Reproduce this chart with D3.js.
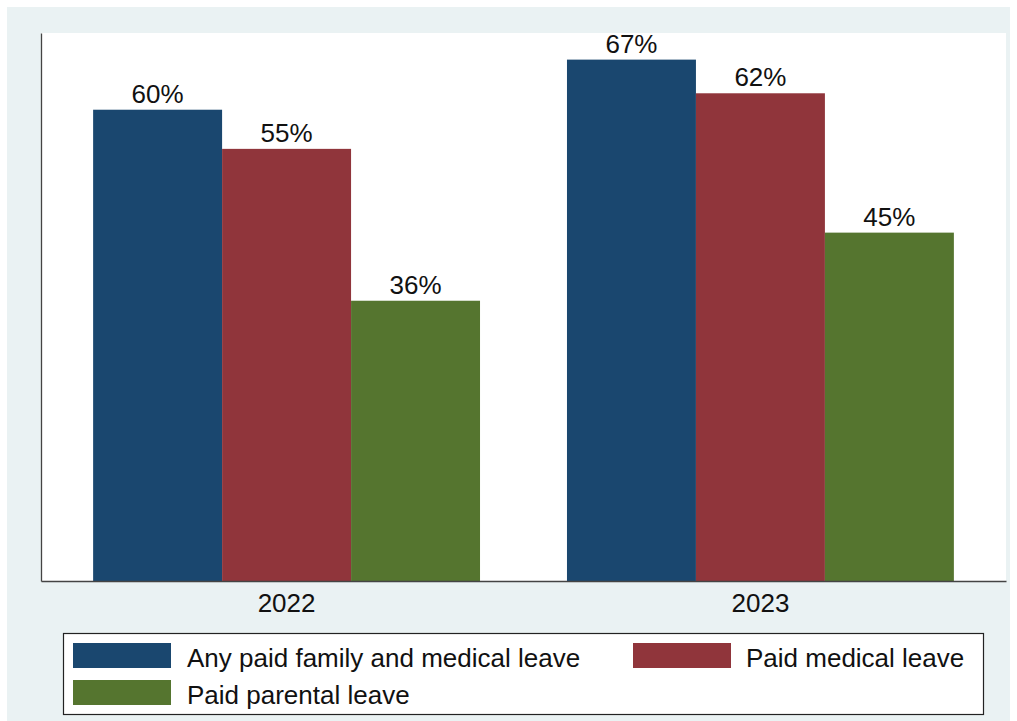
<!DOCTYPE html>
<html>
<head>
<meta charset="utf-8">
<script src="https://cdn.jsdelivr.net/npm/d3@7"></script>
<style>
  html, body { margin: 0; padding: 0; background: #ffffff; }
  svg { display: block; font-family: "Liberation Sans", Arial, Helvetica, sans-serif; }
</style>
</head>
<body>
<svg id="chart" width="1017" height="721"></svg>
<script>
// ---- data ----
const years = ["2022", "2023"];
const seriesNames = ["Any paid family and medical leave", "Paid medical leave", "Paid parental leave"];
const anyPaidLeave = [60.2, 66.6];
const paidMedicalLeave = [55.2, 62.3];
const paidParentalLeave = [35.8, 44.5];
const seriesColors = ["#1a476f", "#90353b", "#55752f"];

const seriesValues = [anyPaidLeave, paidMedicalLeave, paidParentalLeave];
const rows = years.map((yr, i) => ({
  year: yr,
  values: seriesNames.map((s, k) => ({ key: s, value: seriesValues[k][i], color: seriesColors[k] }))
}));

const svg = d3.select("#chart");
const W = 1017, H = 721;
const FS = 26;

// outer background
svg.append("rect").attr("x", 7).attr("y", 7).attr("width", W - 7 - 7).attr("height", H - 7)
  .attr("fill", "#eaf2f3");

const plot = { left: 41, right: 1006, top: 33, bottom: 581 };

// plot region
svg.append("rect").attr("x", plot.left).attr("y", plot.top)
  .attr("width", plot.right - plot.left).attr("height", plot.bottom - plot.top)
  .attr("fill", "#ffffff");

const x0 = d3.scaleBand().domain(years).range([plot.left, plot.right])
  .paddingInner(0.1835).paddingOuter(0.11);
const x1 = d3.scaleBand().domain(seriesNames).range([0, x0.bandwidth()]).padding(0);
const y = d3.scaleLinear().domain([0, 70]).range([plot.bottom, plot.top]);

// bars
const groups = svg.append("g").selectAll("g").data(rows).join("g")
  .attr("transform", d => `translate(${x0(d.year)},0)`);

groups.selectAll("rect").data(d => d.values).join("rect")
  .attr("x", d => x1(d.key))
  .attr("y", d => y(d.value))
  .attr("width", x1.bandwidth())
  .attr("height", d => y(0) - y(d.value))
  .attr("fill", d => d.color);

groups.selectAll("text").data(d => d.values).join("text")
  .attr("x", d => x1(d.key) + x1.bandwidth() / 2)
  .attr("y", d => y(d.value) - 7)
  .attr("text-anchor", "middle")
  .attr("font-size", FS)
  .attr("fill", "#111")
  .text(d => Math.round(d.value) + "%");

// axes
const yAxis = svg.append("g").attr("transform", `translate(${plot.left},0)`)
  .call(d3.axisLeft(y).tickValues([]).tickSizeOuter(0));
yAxis.select(".domain").attr("stroke", "#444").attr("stroke-width", 1.3);

const xAxis = svg.append("g").attr("transform", `translate(0,${plot.bottom})`)
  .call(d3.axisBottom(x0).tickSize(0).tickPadding(13));
xAxis.select(".domain").attr("stroke", "#444").attr("stroke-width", 1.3);
xAxis.selectAll("text").attr("font-size", FS).attr("fill", "#111")
  .attr("font-family", "'Liberation Sans', Arial, Helvetica, sans-serif");

// legend
const legend = svg.append("g");
legend.append("rect").attr("x", 63.5).attr("y", 633.5).attr("width", 920).attr("height", 81)
  .attr("fill", "#ffffff").attr("stroke", "#222").attr("stroke-width", 1.2);

const legendPos = [
  { sx: 73, sy: 643, tx: 187, ty: 667 },
  { sx: 633, sy: 643, tx: 746, ty: 667 },
  { sx: 73, sy: 680, tx: 187, ty: 704 }
];
seriesNames.forEach((name, k) => {
  const p = legendPos[k];
  legend.append("rect").attr("x", p.sx).attr("y", p.sy).attr("width", 98).attr("height", 25)
    .attr("fill", seriesColors[k]);
  legend.append("text").attr("x", p.tx).attr("y", p.ty).attr("font-size", FS).attr("fill", "#111")
    .text(name);
});
</script>
</body>
</html>
